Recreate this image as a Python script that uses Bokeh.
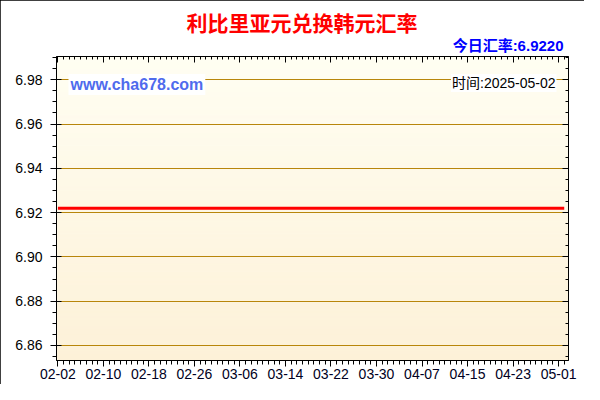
from datetime import datetime
import numpy as np
import pandas as pd
from bokeh.plotting import figure
from bokeh.models import (Range1d, FixedTicker, DatetimeAxis, LinearAxis, DatetimeTickFormatter,
                          Label, Title, PrintfTickFormatter, CustomLabelingPolicy)
from bokeh.embed import file_html
from bokeh.resources import INLINE

# ---------------- data ----------------
title_text = "利比里亚元兑换韩元汇率"
rate_text = "今日汇率:6.9220"
site_text = "www.cha678.com"
time_text = "时间:2025-05-02"

dates = pd.date_range("2025-02-02", "2025-05-02", freq="D")
rates = [
    6.922, 6.922, 6.922, 6.922, 6.922, 6.922, 6.922, 6.922, 6.922, 6.922,
    6.922, 6.922, 6.922, 6.922, 6.922, 6.922, 6.922, 6.922, 6.922, 6.922,
    6.922, 6.922, 6.922, 6.922, 6.922, 6.922, 6.922, 6.922, 6.922, 6.922,
    6.922, 6.922, 6.922, 6.922, 6.922, 6.922, 6.922, 6.922, 6.922, 6.922,
    6.922, 6.922, 6.922, 6.922, 6.922, 6.922, 6.922, 6.922, 6.922, 6.922,
    6.922, 6.922, 6.922, 6.922, 6.922, 6.922, 6.922, 6.922, 6.922, 6.922,
    6.922, 6.922, 6.922, 6.922, 6.922, 6.922, 6.922, 6.922, 6.922, 6.922,
    6.922, 6.922, 6.922, 6.922, 6.922, 6.922, 6.922, 6.922, 6.922, 6.922,
    6.922, 6.922, 6.922, 6.922, 6.922, 6.922, 6.922, 6.922, 6.922, 6.922,
]
x_tick_dates = ["2025-02-02", "2025-02-10", "2025-02-18", "2025-02-26",
                "2025-03-06", "2025-03-14", "2025-03-22", "2025-03-30",
                "2025-04-07", "2025-04-15", "2025-04-23", "2025-05-01"]
y_ticks = [6.86, 6.88, 6.90, 6.92, 6.94, 6.96, 6.98]
y_minor_ticks = [6.855, 6.860, 6.865, 6.870, 6.875, 6.880, 6.885, 6.890, 6.895,
                 6.900, 6.905, 6.910, 6.915, 6.920, 6.925, 6.930, 6.935, 6.940,
                 6.945, 6.950, 6.955, 6.960, 6.965, 6.970, 6.975, 6.980, 6.985, 6.990]

# ---------------- helpers ----------------
def ms(d):
    return pd.Timestamp(d).value / 1e6

x_start = datetime(2025, 2, 1, 18)
x_end = datetime(2025, 5, 2, 18)
y_start, y_end = 6.8532, 6.9905

p = figure(width=584, height=384, x_axis_type="datetime",
           x_range=Range1d(x_start, x_end), y_range=Range1d(y_start, y_end),
           output_backend="svg", toolbar_location=None, title=None,
           min_border_left=56, min_border_right=16, min_border_top=56, min_border_bottom=24)
p.styles = {"outline": "1px solid black", "outline-offset": "-1px"}
p.background_fill_color = "white"
p.border_fill_color = "white"
p.outline_line_color = "black"

# background gradient (styling only)
n = 120
ys = np.linspace(y_start, y_end, n + 1)
bot = np.array([253, 241, 216])
top = np.array([255, 254, 242])
cols = []
for i in range(n):
    t = (i + 0.5) / n
    c = bot + (top - bot) * t
    cols.append("#%02x%02x%02x" % tuple(int(round(v)) for v in c))
p.quad(left=ms(x_start), right=ms(x_end), bottom=ys[:-1], top=ys[1:],
       fill_color=cols, line_color=cols, line_width=1, level="image")

x_ticker = FixedTicker(ticks=[ms(d) for d in x_tick_dates],
                       minor_ticks=[ms(d) for d in dates])
y_ticker = FixedTicker(ticks=y_ticks, minor_ticks=y_minor_ticks)
fmt = DatetimeTickFormatter(days="%m-%d", months="%m-%d", hours="%m-%d", years="%m-%d")

label_font = "Liberation Sans"

xa = p.xaxis[0]
xa.ticker = x_ticker
xa.formatter = fmt
xa.major_tick_out = 6
xa.major_tick_in = 0
xa.minor_tick_out = 4
xa.minor_tick_in = 0
xa.major_label_standoff = 2
xa.major_label_text_font = label_font
xa.major_label_text_font_size = "14px"
xa.major_label_text_color = "#000022"
xa.axis_line_color = "black"

ya = p.yaxis[0]
ya.ticker = y_ticker
ya.formatter = PrintfTickFormatter(format="%.2f")
ya.major_tick_out = 6
ya.major_tick_in = 5
ya.minor_tick_out = 4
ya.minor_tick_in = 0
ya.major_label_standoff = 8
ya.major_label_text_font = label_font
ya.major_label_text_font_size = "14px"
ya.major_label_text_color = "#000000"
ya.axis_line_color = "black"

no_labels = "for (const i of indices) indices.unset(i)"

top_axis = DatetimeAxis(ticker=x_ticker, formatter=fmt,
                        major_label_policy=CustomLabelingPolicy(code=no_labels),
                        major_label_text_font_size="0px",
                        major_tick_in=6, major_tick_out=0, minor_tick_in=3, minor_tick_out=0,
                        major_label_standoff=0, axis_line_color="black")
p.add_layout(top_axis, "above")
right_axis = LinearAxis(ticker=y_ticker,
                        major_label_policy=CustomLabelingPolicy(code=no_labels),
                        major_label_text_font_size="0px",
                        major_tick_in=6, major_tick_out=0, minor_tick_in=3, minor_tick_out=0,
                        major_label_standoff=0, axis_line_color="black")
p.add_layout(right_axis, "right")

p.xgrid.visible = False
p.ygrid.ticker = y_ticker
p.ygrid.grid_line_color = "#B8860B"
p.ygrid.grid_line_width = 1

p.line(x=dates, y=rates, line_color="#FF0000", line_width=3)

# titles above the frame
p.add_layout(Title(text=rate_text, align="right", offset=5, standoff=5,
                   text_font="Liberation Sans, Noto Sans CJK SC", text_font_style="bold",
                   text_font_size="15px", text_color="#0000FF"), "above")
p.add_layout(Title(text=title_text, align="left", offset=130, standoff=-8,
                   text_font="Noto Sans CJK SC", text_font_style="bold",
                   text_font_size="21px", text_color="#FF0000"), "above")

# texts inside the frame (screen units relative to the frame)
p.add_layout(Label(x=12, y=276, x_units="screen", y_units="screen", text=site_text,
                   text_font="Liberation Sans", text_font_style="bold", text_font_size="16px",
                   text_color="#4F6BED", text_align="left", text_baseline="middle",
                   background_fill_color="white", padding=2))
p.add_layout(Label(x=500, y=277.5, x_units="screen", y_units="screen", text=time_text,
                   text_font="Liberation Sans, Noto Sans CJK SC", text_font_size="14px",
                   text_color="#000000", text_align="right", text_baseline="middle",
                   background_fill_color="white", padding=1))

open("out.html", "w").write(file_html(p, INLINE))
